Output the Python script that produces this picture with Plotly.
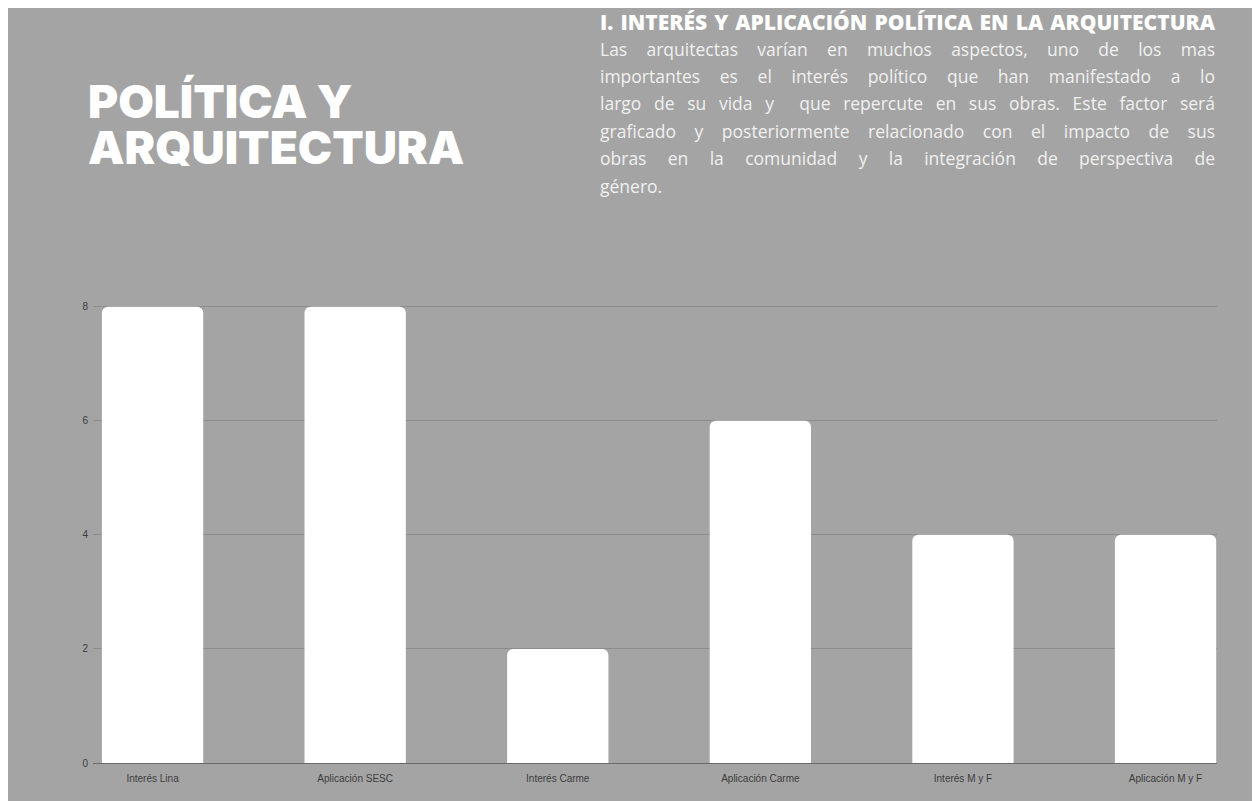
import plotly.graph_objects as go

# ---- data ----
categories = ["Interés Lina", "Aplicación SESC", "Interés Carme",
              "Aplicación Carme", "Interés M y F", "Aplicación M y F"]
values = [8, 8, 2, 6, 4, 4]
y_ticks = [0, 2, 4, 6, 8]

title_lines = ["POLÍTICA Y", "ARQUITECTURA"]
heading = "I. INTERÉS Y APLICACIÓN POLÍTICA EN LA ARQUITECTURA"
paragraph_lines = [
    "Las arquitectas varían en muchos aspectos, uno de los mas",
    "importantes es el interés político que han manifestado a lo",
    "largo de su vida y  que repercute en sus obras. Este factor será",
    "graficado y posteriormente relacionado con el impacto de sus",
    "obras en la comunidad y la integración de perspectiva de",
    "género.",
]

# ---- layout geometry (pixels, figure coordinates) ----
W, H = 1260, 801
L, R, B = 85, 1209, 755
UNIT = 57.0           # pixels per y unit
Y_MAX = 8.1
T = B - Y_MAX * UNIT
BG = "#a4a4a4"
TEXT_W = 615


def px(x):
    return (x - L) / (R - L)


def py(y):
    return (B - y) / (B - T)


fig = go.Figure(
    go.Bar(
        x=categories,
        y=values,
        width=0.5,
        marker=dict(color="#ffffff", cornerradius=6, line=dict(width=0)),
        hoverinfo="x+y",
    )
)

annotations = []
for i, line in enumerate(title_lines):
    annotations.append(dict(
        text=line, xref="paper", yref="paper", x=px(78), y=py(93 + i * 46),
        xanchor="left", yanchor="middle", align="left", showarrow=False,
        font=dict(family="Inter", size=46, color="#ffffff", weight=900),
    ))

annotations.append(dict(
    text=heading, xref="paper", yref="paper", x=px(590), y=py(14.5),
    xanchor="left", yanchor="middle", align="left", showarrow=False,
    font=dict(family="Open Sans", size=21, color="#ffffff", weight=800),
))

for i, line in enumerate(paragraph_lines):
    annotations.append(dict(
        text=line, xref="paper", yref="paper", x=px(590), y=py(41 + i * 27.4),
        xanchor="left", yanchor="middle", align="left", showarrow=False,
        font=dict(family="Open Sans", size=17.5, color="#f0f0f0"),
    ))

fig.update_layout(
    width=W, height=H,
    margin=dict(l=L, r=W - R, t=T, b=H - B, autoexpand=False),
    paper_bgcolor=BG, plot_bgcolor=BG,
    showlegend=False,
    bargap=0.5,
    annotations=annotations,
    xaxis=dict(
        range=[-0.294, 5.254], showgrid=False, showline=False, zeroline=False,
        ticks="", ticklabelstandoff=8,
        tickfont=dict(family="Liberation Sans, Arial", size=10, color="#3c3c3c"),
        fixedrange=True,
    ),
    yaxis=dict(
        range=[0, Y_MAX], tickvals=y_ticks, showgrid=True, gridcolor="#8c8c8c", gridwidth=1,
        zeroline=True, zerolinecolor="#6a6a6a", zerolinewidth=1, showline=False,
        ticks="", ticklabelstandoff=4,
        tickfont=dict(family="Liberation Sans, Arial", size=10, color="#3c3c3c"),
        fixedrange=True,
    ),
)

# justify the text block (all lines but the last) to the reference width
justified = [heading] + paragraph_lines[:-1]
js_list = "[" + ",".join('"' + s.replace('"', '\\"') + '"' for s in justified) + "]"
post_script = """
(function(){
  var gd = document.getElementById('{plot_id}');
  var lines = %s;
  var target = %d;
  function norm(s){ return s.replace(/\\s+/g, ' ').trim(); }
  var wanted = lines.map(norm);
  function justify(){
    gd.querySelectorAll('text.annotation-text').forEach(function(t){
      var raw = t.textContent;
      var s = norm(raw);
      if (wanted.indexOf(s) < 0) return;
      t.style.wordSpacing = '0px';
      var w0 = t.getComputedTextLength();
      t.style.wordSpacing = '10px';
      var w1 = t.getComputedTextLength();
      var perPx = (w1 - w0) / 10;   // number of rendered spaces
      if (perPx > 0 && w0 < target) {
        t.style.wordSpacing = ((target - w0) / perPx) + 'px';
      } else {
        t.style.wordSpacing = '0px';
      }
    });
  }
  if (document.fonts && document.fonts.ready) {
    document.fonts.ready.then(justify);
  }
  justify();
  gd.on('plotly_afterplot', justify);
})();
""" % (js_list, TEXT_W)

fig.write_html("out.html", post_script=post_script)
